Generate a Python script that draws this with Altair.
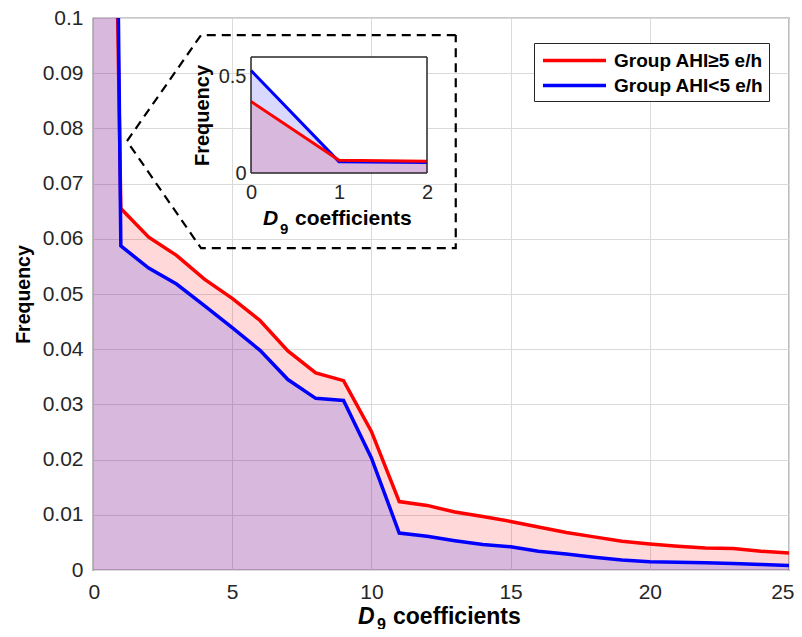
import altair as alt
import pandas as pd

# ---------------- data ----------------
x_vals = list(range(26))
ahi_ge5 = [0.37, 0.0655, 0.0603, 0.0570, 0.0527, 0.0492, 0.0452, 0.0397, 0.0357, 0.0343,
           0.0251, 0.0124, 0.0117, 0.0105, 0.0097, 0.0088, 0.0078, 0.0068, 0.0060, 0.0052,
           0.0047, 0.0043, 0.0040, 0.0039, 0.0034, 0.0031]
ahi_lt5 = [0.53, 0.0587, 0.0547, 0.0518, 0.0479, 0.0439, 0.0398, 0.0345, 0.0311, 0.0307,
           0.0203, 0.0067, 0.0061, 0.0053, 0.0046, 0.0042, 0.0034, 0.0029, 0.0023, 0.0018,
           0.0015, 0.0014, 0.0013, 0.0012, 0.0010, 0.0008]
groups = ["Group AHI≥5 e/h", "Group AHI<5 e/h"]
colors = ["#FF0000", "#0000FF"]

x_ticks = [0, 5, 10, 15, 20, 25]
y_ticks = [0, 0.01, 0.02, 0.03, 0.04, 0.05, 0.06, 0.07, 0.08, 0.09, 0.1]
inset_x_ticks = [0, 1, 2]
inset_y_ticks = [0, 0.5]
inset_x_domain = [0, 2]
inset_y_domain = [0, 0.6]

# callout outline (data coordinates of main axes)
callout_x = [13.03, 3.88, 1.22, 3.88, 13.03, 13.03]
callout_y = [0.0969, 0.0969, 0.0777, 0.0583, 0.0583, 0.0969]

df = pd.DataFrame({
    "x": x_vals * 2,
    "freq": ahi_ge5 + ahi_lt5,
    "group": [groups[0]] * len(x_vals) + [groups[1]] * len(x_vals),
})
callout = pd.DataFrame({"cx": callout_x, "cy": callout_y, "k": list(range(len(callout_x)))})
inset_box = pd.DataFrame({"bx": [inset_x_domain[0]], "bx2": [inset_x_domain[1]],
                          "by": [inset_y_domain[0]], "by2": [inset_y_domain[1]]})
one = pd.DataFrame({"a": [0]})

FONT = "Liberation Sans"
W, H = 696, 552

# ---------------- main axes ----------------
xs = alt.X("x:Q", scale=alt.Scale(domain=[0, 25], nice=False, zero=False),
           axis=alt.Axis(values=x_ticks, title=None, grid=True, ticks=False, domain=False,
                         labelPadding=11, labelFontSize=21, labelColor="#262626",
                         gridColor="#dadada", labelFlush=True, labelFlushOffset=5))
ys = alt.Y("freq:Q", scale=alt.Scale(domain=[0, 0.1], nice=False),
           axis=alt.Axis(values=y_ticks, format="~g", title="Frequency", grid=True, ticks=False,
                         domain=False, labelPadding=10, labelFontSize=21, labelColor="#262626",
                         titleFontSize=19.5, titleFontWeight="bold", titlePadding=9,
                         gridColor="#dadada", labelFlush=False))

red_area = alt.Chart(df).transform_filter(alt.datum.group == groups[0]).mark_area(
    color=colors[0], opacity=0.15, clip=True).encode(x=xs, y=ys)
blue_area = alt.Chart(df).transform_filter(alt.datum.group == groups[1]).mark_area(
    color=colors[1], opacity=0.15, clip=True).encode(x=xs, y=ys)
lines = alt.Chart(df).mark_line(strokeWidth=3.5, clip=True).encode(
    x=xs, y=ys,
    color=alt.Color("group:N", sort=groups,
                    scale=alt.Scale(domain=groups, range=colors),
                    legend=alt.Legend(title=None, orient="none", legendX=441, legendY=25,
                                      strokeColor="#262626", fillColor="white", padding=5,
                                      symbolType="M-3,0H3", symbolSize=441,
                                      symbolStrokeWidth=3.5, symbolOffset=23,
                                      labelFontSize=19, labelFontWeight="bold",
                                      labelColor="black", labelFont=FONT, rowPadding=2,
                                      labelOffset=27)),
    detail="group:N",
)
callout_line = alt.Chart(callout).mark_line(color="black", strokeWidth=2.2,
                                             strokeDash=[9, 6], clip=True).encode(
    x=alt.X("cx:Q"), y=alt.Y("cy:Q"), order="k:Q")

# main x title: italic D, subscript 9, "coefficients"
t_D = alt.Chart(one).mark_text(text="D", font=FONT, fontSize=23, fontWeight="bold",
                               fontStyle="italic", align="left", baseline="alphabetic",
                               color="black").encode(x=alt.value(265), y=alt.value(606))
t_9 = alt.Chart(one).mark_text(text="9", font=FONT, fontSize=16, fontWeight="bold",
                               align="left", baseline="alphabetic",
                               color="black").encode(x=alt.value(284), y=alt.value(612))
t_c = alt.Chart(one).mark_text(text="coefficients", font=FONT, fontSize=23, fontWeight="bold",
                               align="left", baseline="alphabetic",
                               color="black").encode(x=alt.value(300), y=alt.value(606))

main = alt.layer(red_area, blue_area, lines, callout_line, t_D, t_9, t_c)

# ---------------- inset axes ----------------
IX0, IX1 = 158, 334
IY0, IY1 = 155, 39
xi_scale = alt.Scale(domain=inset_x_domain, range=[IX0, IX1], nice=False, zero=False)
xi_axis = alt.Axis(orient="bottom", offset=-(H - IY0), values=inset_x_ticks, format="~g",
                   title=None, grid=False, ticks=False, domain=False, labelPadding=9,
                   labelFontSize=20, labelColor="#262626", labelFlush=False)
yi_scale = alt.Scale(domain=inset_y_domain, range=[IY0, IY1], nice=False)
yi_axis = alt.Axis(orient="left", offset=-IX0, values=inset_y_ticks, format="~g",
                   title="Frequency", grid=False, ticks=False, domain=False,
                   labelPadding=5, labelFontSize=20, labelColor="#262626",
                   titleFontSize=20, titleFontWeight="bold", titlePadding=6,
                   labelFlush=False)
xi = alt.X("x:Q", scale=xi_scale, axis=xi_axis)
yi = alt.Y("freq:Q", scale=yi_scale, axis=yi_axis)

inset_df = df[df["x"] <= inset_x_domain[1]]
bg = alt.Chart(inset_box).mark_rect(fill="white", stroke="#262626", strokeWidth=1).encode(
    x=alt.X("bx:Q", scale=xi_scale, axis=xi_axis), x2="bx2:Q",
    y=alt.Y("by:Q", scale=yi_scale, axis=yi_axis), y2="by2:Q")
i_red_area = alt.Chart(inset_df).transform_filter(alt.datum.group == groups[0]).mark_area(
    color=colors[0], opacity=0.15).encode(x=xi, y=yi)
i_blue_area = alt.Chart(inset_df).transform_filter(alt.datum.group == groups[1]).mark_area(
    color=colors[1], opacity=0.15).encode(x=xi, y=yi)
i_blue_line = alt.Chart(inset_df).transform_filter(alt.datum.group == groups[1]).mark_line(
    color=colors[1], strokeWidth=3).encode(x=xi, y=yi)
i_red_line = alt.Chart(inset_df).transform_filter(alt.datum.group == groups[0]).mark_line(
    color=colors[0], strokeWidth=3).encode(x=xi, y=yi)
frame = alt.Chart(inset_box).mark_rect(fill="white", fillOpacity=0, stroke="#262626",
                                       strokeWidth=1).encode(
    x=alt.X("bx:Q", scale=xi_scale, axis=xi_axis), x2="bx2:Q",
    y=alt.Y("by:Q", scale=yi_scale, axis=yi_axis), y2="by2:Q")

it_D = alt.Chart(one).mark_text(text="D", font=FONT, fontSize=21, fontWeight="bold",
                                fontStyle="italic", align="left", baseline="alphabetic",
                                color="black").encode(x=alt.value(170), y=alt.value(207))
it_9 = alt.Chart(one).mark_text(text="9", font=FONT, fontSize=15, fontWeight="bold",
                                align="left", baseline="alphabetic",
                                color="black").encode(x=alt.value(187), y=alt.value(216))
it_c = alt.Chart(one).mark_text(text="coefficients", font=FONT, fontSize=21, fontWeight="bold",
                                align="left", baseline="alphabetic",
                                color="black").encode(x=alt.value(202), y=alt.value(207))

inset = alt.layer(bg, i_red_area, i_blue_area, i_blue_line, i_red_line, frame, it_D, it_9, it_c)

chart = alt.layer(main, inset).resolve_scale(x="independent", y="independent").properties(
    width=W, height=H,
    autosize=alt.AutoSizeParams(type="none"),
    padding={"left": 85, "top": 10, "right": 5, "bottom": 59},
).configure(font=FONT).configure_view(stroke="#262626", strokeWidth=1.2).configure_axis(
    labelFont=FONT, titleFont=FONT, titleColor="black")

chart.save("out.html", embed_options={"renderer": "svg", "actions": False})
